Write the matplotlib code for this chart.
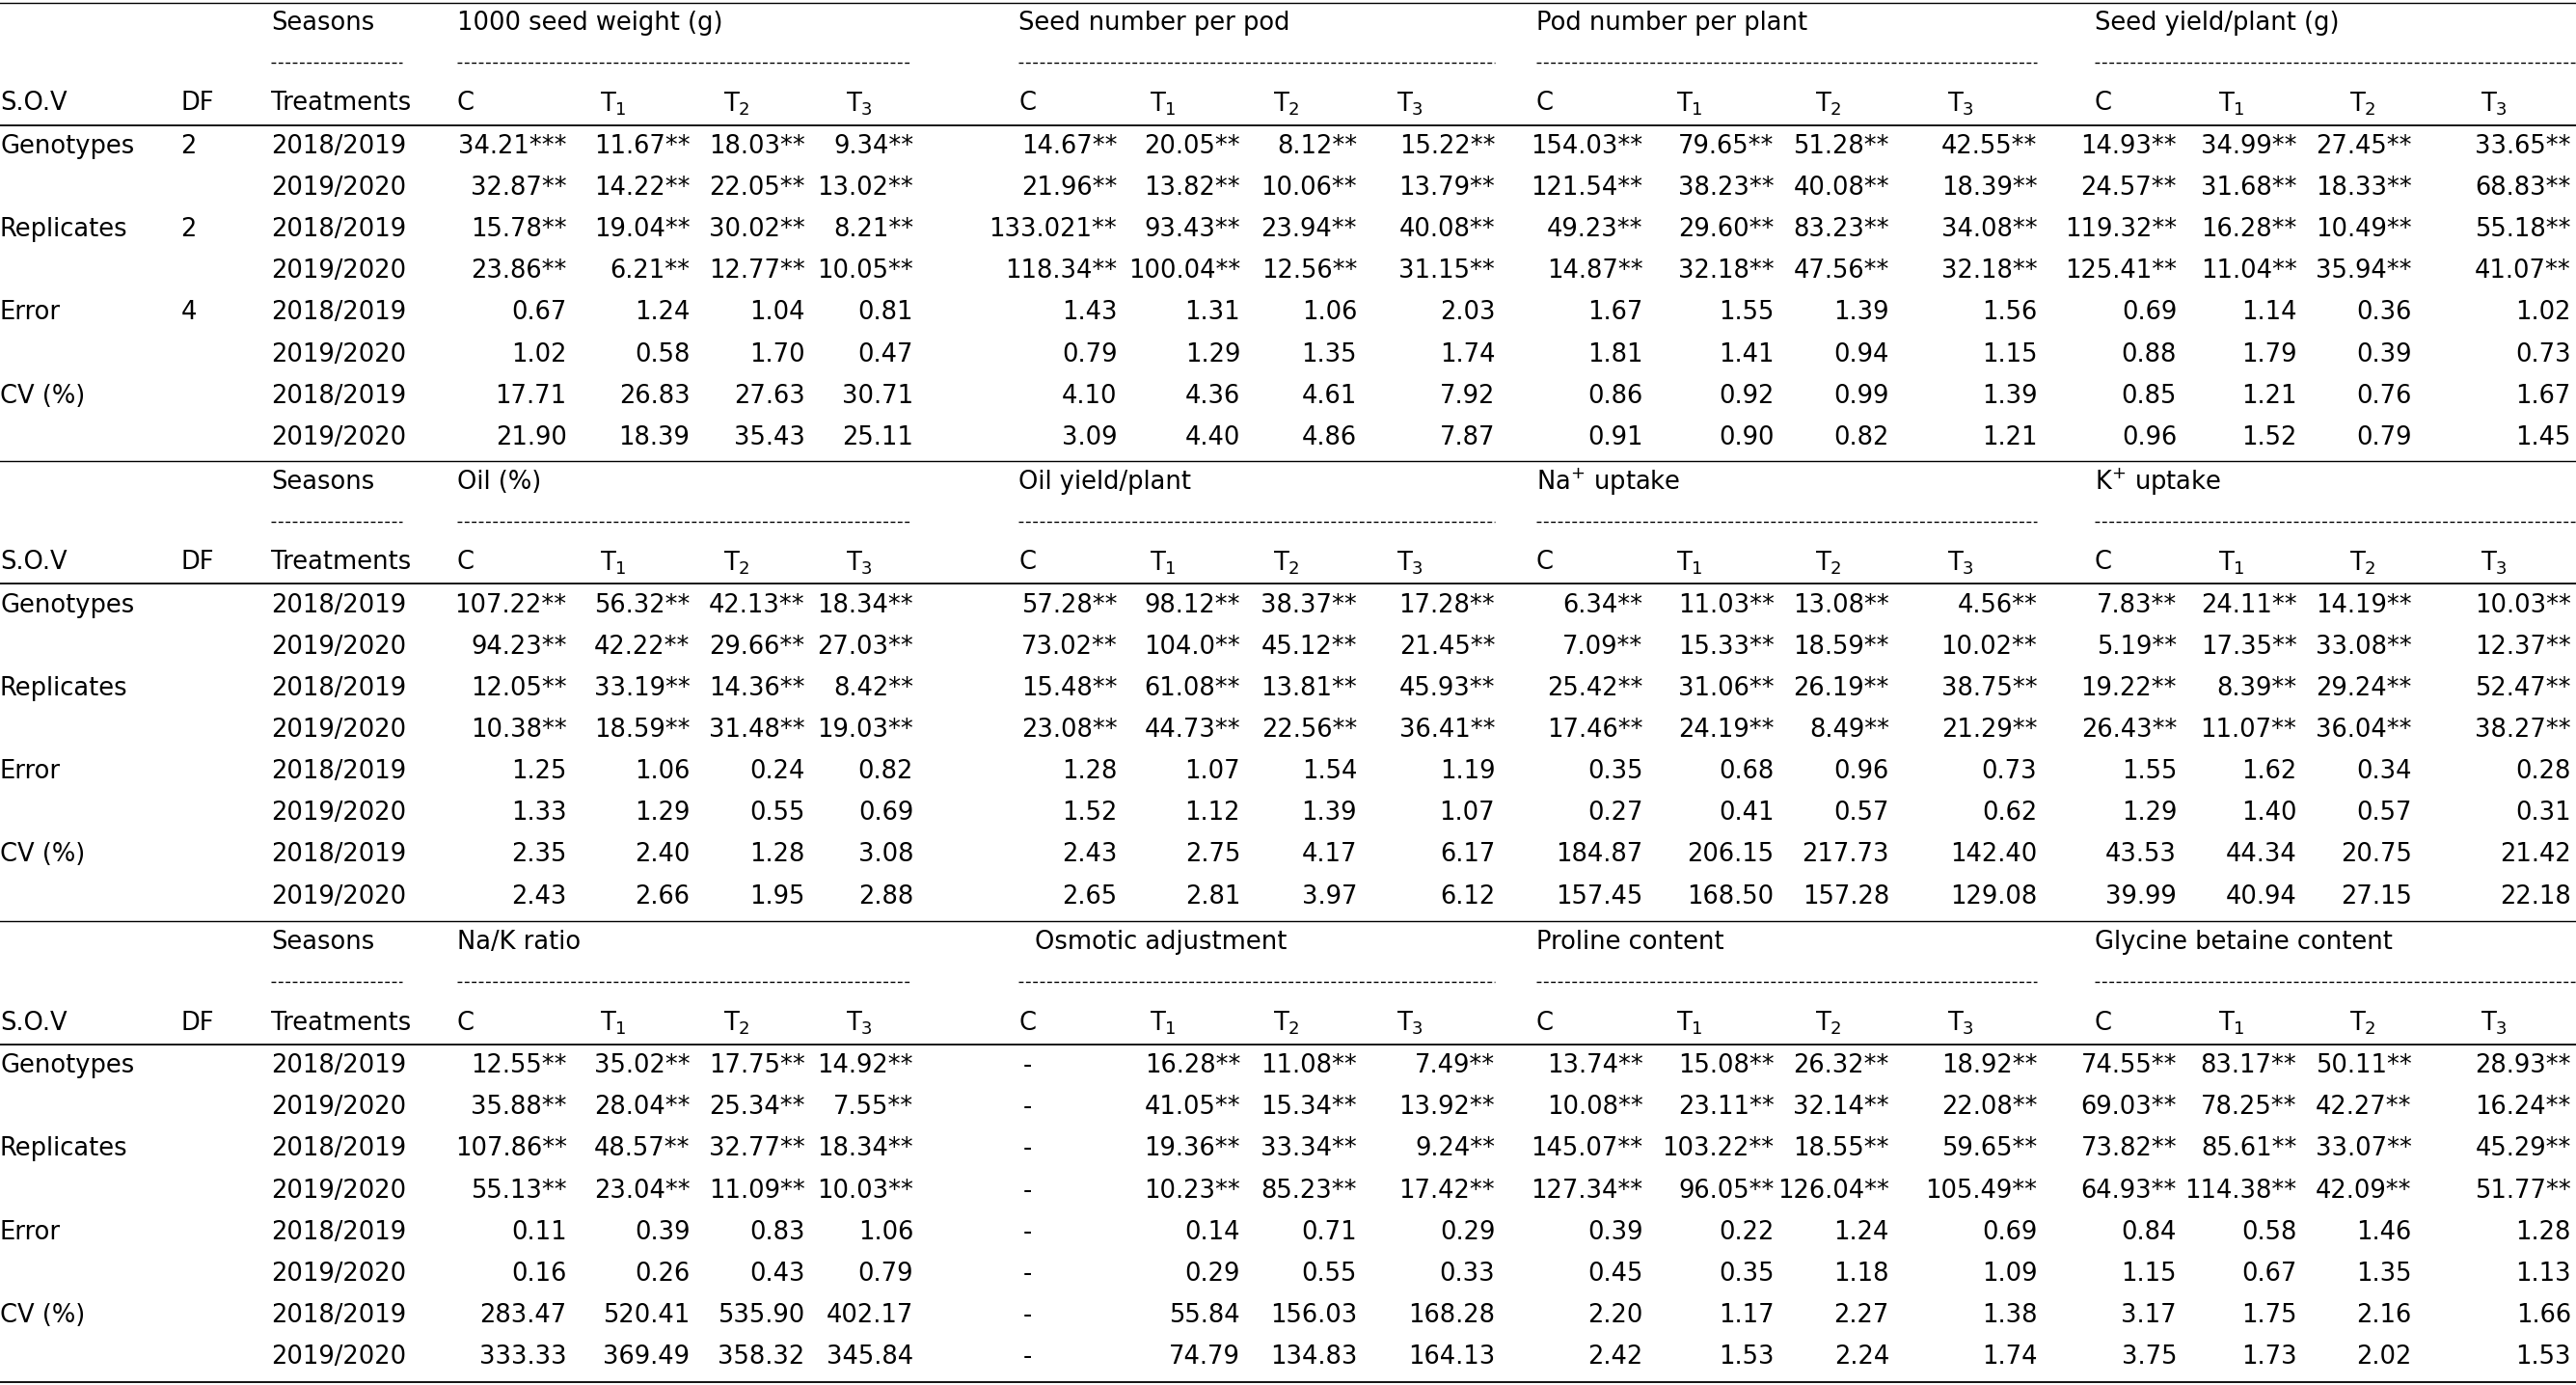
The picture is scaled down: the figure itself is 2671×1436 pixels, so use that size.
import matplotlib.pyplot as plt

# ---- data ----
sov_labels = ["Genotypes", "", "Replicates", "", "Error", "", "CV (%)", ""]
df_first = ["2", "", "2", "", "4", "", "", ""]
seasons = ["2018/2019", "2019/2020"] * 4
treatments = ["C", "T$_1$", "T$_2$", "T$_3$"]

titles_1 = ["1000 seed weight (g)", "Seed number per pod", "Pod number per plant", "Seed yield/plant (g)"]
titles_2 = ["Oil (%)", "Oil yield/plant", "Na$^{+}$ uptake", "K$^{+}$ uptake"]
titles_3 = ["Na/K ratio", "Osmotic adjustment", "Proline content", "Glycine betaine content"]

values_1 = [
    "34.21*** 11.67** 18.03** 9.34** 14.67** 20.05** 8.12** 15.22** 154.03** 79.65** 51.28** 42.55** 14.93** 34.99** 27.45** 33.65**",
    "32.87** 14.22** 22.05** 13.02** 21.96** 13.82** 10.06** 13.79** 121.54** 38.23** 40.08** 18.39** 24.57** 31.68** 18.33** 68.83**",
    "15.78** 19.04** 30.02** 8.21** 133.021** 93.43** 23.94** 40.08** 49.23** 29.60** 83.23** 34.08** 119.32** 16.28** 10.49** 55.18**",
    "23.86** 6.21** 12.77** 10.05** 118.34** 100.04** 12.56** 31.15** 14.87** 32.18** 47.56** 32.18** 125.41** 11.04** 35.94** 41.07**",
    "0.67 1.24 1.04 0.81 1.43 1.31 1.06 2.03 1.67 1.55 1.39 1.56 0.69 1.14 0.36 1.02",
    "1.02 0.58 1.70 0.47 0.79 1.29 1.35 1.74 1.81 1.41 0.94 1.15 0.88 1.79 0.39 0.73",
    "17.71 26.83 27.63 30.71 4.10 4.36 4.61 7.92 0.86 0.92 0.99 1.39 0.85 1.21 0.76 1.67",
    "21.90 18.39 35.43 25.11 3.09 4.40 4.86 7.87 0.91 0.90 0.82 1.21 0.96 1.52 0.79 1.45",
]
values_2 = [
    "107.22** 56.32** 42.13** 18.34** 57.28** 98.12** 38.37** 17.28** 6.34** 11.03** 13.08** 4.56** 7.83** 24.11** 14.19** 10.03**",
    "94.23** 42.22** 29.66** 27.03** 73.02** 104.0** 45.12** 21.45** 7.09** 15.33** 18.59** 10.02** 5.19** 17.35** 33.08** 12.37**",
    "12.05** 33.19** 14.36** 8.42** 15.48** 61.08** 13.81** 45.93** 25.42** 31.06** 26.19** 38.75** 19.22** 8.39** 29.24** 52.47**",
    "10.38** 18.59** 31.48** 19.03** 23.08** 44.73** 22.56** 36.41** 17.46** 24.19** 8.49** 21.29** 26.43** 11.07** 36.04** 38.27**",
    "1.25 1.06 0.24 0.82 1.28 1.07 1.54 1.19 0.35 0.68 0.96 0.73 1.55 1.62 0.34 0.28",
    "1.33 1.29 0.55 0.69 1.52 1.12 1.39 1.07 0.27 0.41 0.57 0.62 1.29 1.40 0.57 0.31",
    "2.35 2.40 1.28 3.08 2.43 2.75 4.17 6.17 184.87 206.15 217.73 142.40 43.53 44.34 20.75 21.42",
    "2.43 2.66 1.95 2.88 2.65 2.81 3.97 6.12 157.45 168.50 157.28 129.08 39.99 40.94 27.15 22.18",
]
values_3 = [
    "12.55** 35.02** 17.75** 14.92** - 16.28** 11.08** 7.49** 13.74** 15.08** 26.32** 18.92** 74.55** 83.17** 50.11** 28.93**",
    "35.88** 28.04** 25.34** 7.55** - 41.05** 15.34** 13.92** 10.08** 23.11** 32.14** 22.08** 69.03** 78.25** 42.27** 16.24**",
    "107.86** 48.57** 32.77** 18.34** - 19.36** 33.34** 9.24** 145.07** 103.22** 18.55** 59.65** 73.82** 85.61** 33.07** 45.29**",
    "55.13** 23.04** 11.09** 10.03** - 10.23** 85.23** 17.42** 127.34** 96.05** 126.04** 105.49** 64.93** 114.38** 42.09** 51.77**",
    "0.11 0.39 0.83 1.06 - 0.14 0.71 0.29 0.39 0.22 1.24 0.69 0.84 0.58 1.46 1.28",
    "0.16 0.26 0.43 0.79 - 0.29 0.55 0.33 0.45 0.35 1.18 1.09 1.15 0.67 1.35 1.13",
    "283.47 520.41 535.90 402.17 - 55.84 156.03 168.28 2.20 1.17 2.27 1.38 3.17 1.75 2.16 1.66",
    "333.33 369.49 358.32 345.84 - 74.79 134.83 164.13 2.42 1.53 2.24 1.74 3.75 1.73 2.02 1.53",
]

# ---- layout (in reference pixel units, 1568 x 842) ----
W, H = 1568, 842
header_x = [278, 365, 440, 515, 620, 700, 775, 850, 935, 1020, 1105, 1185, 1275, 1350, 1430, 1510]
value_right = [345, 420, 490, 556, 680, 755, 826, 910, 1000, 1080, 1150, 1240, 1325, 1398, 1468, 1565]
title_x = [278, 620, 935, 1275]
dash_span = [(278, 555), (620, 910), (935, 1240), (1275, 1568)]
FS = 18.5
DASH = (0, (3.5, 1.8))

fig = plt.figure(figsize=(26.71, 14.36), dpi=100)
ax = fig.add_axes([0, 0, 1, 1])
ax.set_xlim(0, W)
ax.set_ylim(H, 0)
ax.axis("off")


def txt(x, y, s, ha="left"):
    ax.text(x, y, s, ha=ha, va="center", fontsize=FS, family="DejaVu Sans")


def section(y0, titles, values, df_col, osmotic=False):
    txt(165, y0, "Seasons")
    ax.plot([165, 245], [y0 + 24, y0 + 24], color="black", lw=1.0, ls=DASH)
    tx = list(title_x)
    if osmotic:
        tx[1] = 630
    for x, t in zip(tx, titles):
        txt(x, y0, t)
    for a, b in dash_span:
        ax.plot([a, b], [y0 + 24, y0 + 24], color="black", lw=1.0, ls=DASH)
    yh = y0 + 49
    txt(0, yh, "S.O.V")
    txt(110, yh, "DF")
    txt(165, yh, "Treatments")
    for i, x in enumerate(header_x):
        txt(x, yh, treatments[i % 4])
    ax.plot([0, W], [yh + 13, yh + 13], color="black", lw=1.3)
    for r in range(8):
        y = yh + 26 + r * 25.3
        txt(0, y, sov_labels[r])
        txt(110, y, df_col[r])
        txt(165, y, seasons[r])
        for i, v in enumerate(values[r].split()):
            if v == "-":
                txt(header_x[i] + 3, y, v)
            else:
                txt(value_right[i], y, v, ha="right")


ax.plot([0, W], [2, 2], color="black", lw=1.0)
section(14, titles_1, values_1, df_first)
ax.plot([0, W], [280, 280], color="black", lw=1.0)
section(293, titles_2, values_2, [""] * 8)
ax.plot([0, W], [560, 560], color="black", lw=1.0)
section(573, titles_3, values_3, [""] * 8, osmotic=True)
ax.plot([0, W], [840, 840], color="black", lw=1.3)

fig.savefig("out.png", dpi=100)
